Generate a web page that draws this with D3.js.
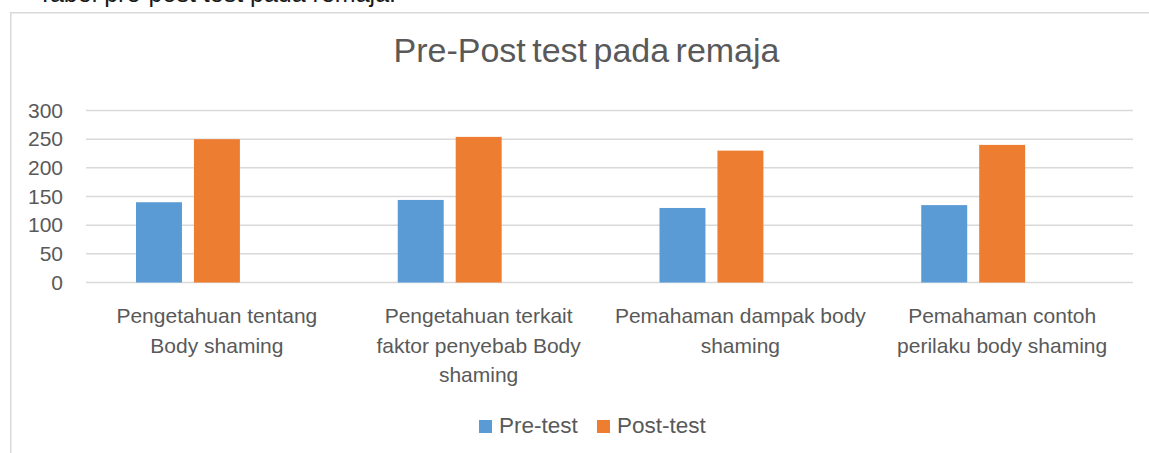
<!DOCTYPE html>
<html>
<head>
<meta charset="utf-8">
<script src="https://cdn.jsdelivr.net/npm/d3@7"></script>
<style>
  body { margin: 0; background: #fff; }
  svg { display: block; font-family: "Liberation Sans", Arial, sans-serif; }
</style>
</head>
<body>
<div id="chart"></div>
<script>
// Data
var categories  =   [
    "Pengetahuan tentang\nBody shaming",
    "Pengetahuan terkait\nfaktor penyebab Body\nshaming",
    "Pemahaman dampak body\nshaming",
    "Pemahaman contoh\nperilaku body shaming"
];
var series      =   [ "Pre-test", "Post-test" ];
var preTest     =   [ 140, 144, 130, 135 ];
var postTest    =   [ 250, 254, 230, 240 ];
var yTicks      =   [ 0, 50, 100, 150, 200, 250, 300 ];

var colors      =   { "Pre-test": "#5B9BD5", "Post-test": "#ED7D31" };
var textColor   =   "#595959";
var gridColor   =   "#D9D9D9";

var chart_width     =   1149;
var chart_height    =   453;

var svg = d3.select("#chart")
    .append("svg")
    .attr("width", chart_width)
    .attr("height", chart_height);

// caption of the document, cut off at the top like in the source
svg.append("text")
    .attr("x", 396)
    .attr("y", 2)
    .attr("text-anchor", "end")
    .attr("fill", "#1a1a1a")
    .attr("font-size", 25)
    .text("Tabel pre-post test pada remaja.");

// chart area border (left and top edges visible)
svg.append("path")
    .attr("d", "M10.75,453 V12.75 H1149")
    .attr("fill", "none")
    .attr("stroke", gridColor)
    .attr("stroke-width", 1.5);

// Title
svg.append("text")
    .attr("x", 586.5)
    .attr("y", 62)
    .attr("text-anchor", "middle")
    .attr("fill", textColor)
    .attr("font-size", 34)
    .attr("word-spacing", -3)
    .text("Pre-Post test pada remaja");

// Scales
var x0 = d3.scaleBand()
    .domain(categories)
    .range([ 86, 1133 ]);

var x1 = d3.scaleBand()
    .domain(series)
    .range([ x0.bandwidth() * 0.191, x0.bandwidth() * 0.588 ])
    .paddingInner(12 / 58);

var y = d3.scaleLinear()
    .domain([ 0, 300 ])
    .range([ 282.5, 110.5 ]);

// Gridlines
svg.append("g")
    .selectAll("line")
    .data(yTicks)
    .enter().append("line")
    .attr("x1", 86)
    .attr("x2", 1133)
    .attr("y1", d => y(d))
    .attr("y2", d => y(d))
    .attr("stroke", gridColor)
    .attr("stroke-width", 1.5);

// Y axis
var yAxis = svg.append("g")
    .attr("transform", "translate(63,0)")
    .call(d3.axisLeft(y).tickValues(yTicks).tickSize(0).tickPadding(0));
yAxis.select(".domain").remove();
yAxis.selectAll("text")
    .attr("fill", textColor)
    .attr("font-size", 21)
    .attr("font-family", "Liberation Sans, Arial, sans-serif");

// Bars
var rows = categories.map(function(c, i){
    return { cat: c, values: [ preTest[i], postTest[i] ] };
});

var groups = svg.append("g")
    .selectAll("g")
    .data(rows)
    .enter().append("g")
    .attr("transform", d => "translate(" + x0(d.cat) + ",0)");

groups.selectAll("rect")
    .data(d => d.values.map((v, j) => ({ key: series[j], value: v })))
    .enter().append("rect")
    .attr("x", d => x1(d.key))
    .attr("width", x1.bandwidth())
    .attr("y", d => y(d.value))
    .attr("height", d => y(0) - y(d.value))
    .attr("fill", d => colors[d.key]);

// Category labels
var labels = svg.append("g")
    .selectAll("text")
    .data(categories)
    .enter().append("text")
    .attr("x", d => x0(d) + x0.bandwidth() / 2)
    .attr("y", 323)
    .attr("text-anchor", "middle")
    .attr("fill", textColor)
    .attr("font-size", 21);

labels.selectAll("tspan")
    .data(d => d.split("\n"))
    .enter().append("tspan")
    .attr("x", function(){ return d3.select(this.parentNode).attr("x"); })
    .attr("dy", (d, i) => i === 0 ? 0 : 29.5)
    .text(d => d);

// Legend
var legendX = [ 479, 597 ];
var legend = svg.append("g")
    .selectAll("g")
    .data(series)
    .enter().append("g")
    .attr("transform", (d, i) => "translate(" + legendX[i] + ",0)");

legend.append("rect")
    .attr("x", 0)
    .attr("y", 420)
    .attr("width", 13)
    .attr("height", 13)
    .attr("fill", d => colors[d]);

legend.append("text")
    .attr("x", 20)
    .attr("y", 433)
    .attr("fill", textColor)
    .attr("font-size", 22.5)
    .text(d => d);
</script>
</body>
</html>
